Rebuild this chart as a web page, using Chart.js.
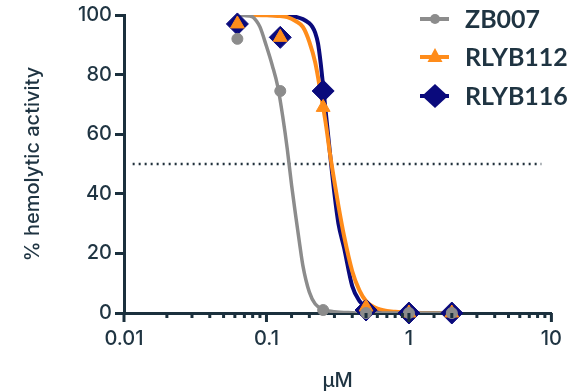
<!DOCTYPE html>
<html>
<head>
<meta charset="utf-8">
<script src="https://cdn.jsdelivr.net/npm/chart.js@4"></script>
<style>
    html, body { margin: 0; padding: 0; background: #fff; }
    canvas { display: block; }
</style>
</head>
<body>
<canvas id="grafico" width="576" height="391"></canvas>
<script>
// Concentraciones medidas (µM) y % actividad hemolítica
const dosis = [0.0625, 0.125, 0.25, 0.5, 1, 2];
const zb007 = [92, 74.5, 1, 0, 0, 0];
const rlyb112 = [97, 92.5, 69, 2, 0, 0];
const rlyb116 = [97, 92.5, 74.5, 1, 0, 0];

// Curvas ajustadas, leídas punto a punto del gráfico
const curvaZbX = [0.0625, 0.07, 0.08, 0.085, 0.09, 0.1, 0.11, 0.12, 0.13, 0.14, 0.15, 0.16, 0.17, 0.18, 0.2, 0.22, 0.25, 0.3, 0.4, 0.6, 1, 2];
const curvaZbY = [99.9, 99.8, 99.4, 98, 96, 89.5, 83, 76, 66, 55, 43, 33, 24, 16, 7, 3, 1.2, 0.4, 0.1, 0, 0, 0];

const curva112X = [0.0625, 0.1, 0.12, 0.14, 0.16, 0.18, 0.2, 0.22, 0.24, 0.26, 0.28, 0.3, 0.32, 0.35, 0.4, 0.45, 0.5, 0.6, 0.8, 1, 2];
const curva112Y = [100, 99.9, 99.7, 99.3, 98, 96, 91, 84, 74, 64, 53, 44, 36, 26, 14, 7.5, 4, 1.5, 0.4, 0.1, 0];

const curva116X = [0.0625, 0.1, 0.14, 0.16, 0.18, 0.2, 0.21, 0.22, 0.23, 0.24, 0.25, 0.26, 0.28, 0.3, 0.32, 0.35, 0.4, 0.45, 0.5, 0.6, 0.8, 1, 2];
const curva116Y = [100, 100, 99.8, 99.4, 98.6, 97.2, 96, 94, 90.5, 84, 76, 68, 53, 40, 30, 22, 9, 4, 2, 0.6, 0.1, 0, 0];

// Línea de referencia al 50 %
const lineaRefX = [0.0115, 8.5];
const lineaRefY = [50, 50];

// Etiquetas de ejes
const ticksX = [0.01, 0.1, 1, 10];
const etiquetasX = ["0.01", "0.1", "1", "10"];
const series = ["ZB007", "RLYB112", "RLYB116"];

const OSCURO = "#1b303d";
const TEXTO = "#1f3442";
const GRIS = "#8c8c8c";
const NARANJA = "#ff8c1a";
const AZUL = "#0a0a7c";

function pares(xs, ys) {
    return xs.map((x, i) => ({ x: x, y: ys[i] }));
}

// Marcas del eje X (mayores y menores) dibujadas con la escala logarítmica
const marcasEjeX = {
    id: "marcasEjeX",
    afterDraw(chart) {
        const escala = chart.scales.x;
        const ctx = chart.ctx;
        const base = chart.chartArea.bottom;
        ctx.save();
        ctx.strokeStyle = OSCURO;
        ctx.lineWidth = 3;
        escala.ticks.forEach((t) => {
            const l = Math.log10(t.value);
            const mayor = Math.abs(l - Math.round(l)) < 1e-6;
            const px = escala.getPixelForValue(t.value);
            ctx.beginPath();
            ctx.moveTo(px, base);
            ctx.lineTo(px, base + (mayor ? 9 : 5));
            ctx.stroke();
        });
        ctx.restore();
    },
};

// Leyenda a la derecha con línea y marcador
const leyenda = {
    id: "leyendaPropia",
    afterDraw(chart) {
        const ctx = chart.ctx;
        const filas = [
            { texto: series[0], color: GRIS, y: 19, tipo: "circulo" },
            { texto: series[1], color: NARANJA, y: 57, tipo: "triangulo" },
            { texto: series[2], color: AZUL, y: 96, tipo: "rombo" },
        ];
        ctx.save();
        filas.forEach((f) => {
            const cx = 435;
            ctx.strokeStyle = f.color;
            ctx.fillStyle = f.color;
            ctx.lineWidth = 4;
            ctx.beginPath();
            ctx.moveTo(420, f.y);
            ctx.lineTo(449, f.y);
            ctx.stroke();
            ctx.beginPath();
            if (f.tipo === "circulo") {
                ctx.arc(cx, f.y, 5, 0, Math.PI * 2);
            } else if (f.tipo === "triangulo") {
                ctx.moveTo(cx, f.y - 9);
                ctx.lineTo(cx + 7.5, f.y + 5);
                ctx.lineTo(cx - 7.5, f.y + 5);
                ctx.closePath();
            } else {
                ctx.moveTo(cx, f.y - 12);
                ctx.lineTo(cx + 13, f.y);
                ctx.lineTo(cx, f.y + 12);
                ctx.lineTo(cx - 13, f.y);
                ctx.closePath();
            }
            ctx.fill();
            ctx.fillStyle = TEXTO;
            ctx.font = "bold 25px Lato";
            ctx.textBaseline = "middle";
            ctx.textAlign = "left";
            ctx.fillText(f.texto, 465, f.y + 1);
        });
        ctx.restore();
    },
};

function inicializarGrafico() {
    const ctx = document.getElementById("grafico").getContext("2d");
    const fuente = { family: "Inter", size: 20, weight: "500" };
    new Chart(ctx, {
        type: "line",
        data: {
            datasets: [
                {
                    label: series[0] + " puntos",
                    data: pares(dosis, zb007),
                    showLine: false,
                    pointStyle: "circle",
                    pointRadius: 5.5,
                    pointBackgroundColor: GRIS,
                    pointBorderColor: GRIS,
                    pointBorderWidth: 1,
                    clip: false,
                    order: 0,
                },
                {
                    label: series[1] + " puntos",
                    data: pares(dosis, rlyb112),
                    showLine: false,
                    pointStyle: "triangle",
                    pointRadius: 8,
                    pointBackgroundColor: NARANJA,
                    pointBorderColor: NARANJA,
                    pointBorderWidth: 1,
                    clip: false,
                    order: 1,
                },
                {
                    label: series[2] + " puntos",
                    data: pares(dosis, rlyb116),
                    showLine: false,
                    pointStyle: "rectRot",
                    pointRadius: 11,
                    pointBackgroundColor: AZUL,
                    pointBorderColor: AZUL,
                    pointBorderWidth: 1,
                    clip: false,
                    order: 2,
                },
                {
                    label: series[0],
                    data: pares(curvaZbX, curvaZbY),
                    borderColor: GRIS,
                    borderWidth: 3.5,
                    pointRadius: 0,
                    cubicInterpolationMode: "monotone",
                    fill: false,
                    order: 3,
                },
                {
                    label: series[1],
                    data: pares(curva112X, curva112Y),
                    borderColor: NARANJA,
                    borderWidth: 4,
                    pointRadius: 0,
                    cubicInterpolationMode: "monotone",
                    fill: false,
                    order: 4,
                },
                {
                    label: series[2],
                    data: pares(curva116X, curva116Y),
                    borderColor: AZUL,
                    borderWidth: 4,
                    pointRadius: 0,
                    cubicInterpolationMode: "monotone",
                    fill: false,
                    order: 5,
                },
                {
                    label: "50 %",
                    data: pares(lineaRefX, lineaRefY),
                    borderColor: "#22323d",
                    borderWidth: 2.5,
                    borderDash: [2, 4],
                    pointRadius: 0,
                    fill: false,
                    order: 6,
                },
            ],
        },
        options: {
            responsive: false,
            animation: false,
            devicePixelRatio: 1,
            layout: {
                padding: { top: 14, right: 23, left: 0, bottom: 0 },
            },
            plugins: {
                legend: { display: false },
                tooltip: { enabled: false },
            },
            scales: {
                x: {
                    type: "logarithmic",
                    min: 0.01,
                    max: 10,
                    afterFit: (s) => { s.height = 78; },
                    border: { display: true, color: OSCURO, width: 3 },
                    grid: { display: true, drawOnChartArea: false, drawTicks: false },
                    ticks: {
                        autoSkip: false,
                        maxRotation: 0,
                        padding: 14,
                        color: TEXTO,
                        font: fuente,
                        callback: function (value) {
                            const i = ticksX.findIndex((t) => Math.abs(t - value) / t < 1e-6);
                            return i >= 0 ? etiquetasX[i] : "";
                        },
                    },
                    title: {
                        display: true,
                        text: "µM",
                        color: TEXTO,
                        font: { family: "Inter", size: 20, weight: "500", lineHeight: 1 },
                        padding: 0,
                    },
                },
                y: {
                    min: 0,
                    max: 100,
                    afterFit: (s) => { s.width = 124; },
                    border: { display: true, color: OSCURO, width: 3 },
                    grid: {
                        display: true,
                        drawOnChartArea: false,
                        tickLength: 9,
                        tickWidth: 3,
                        tickColor: OSCURO,
                    },
                    ticks: {
                        stepSize: 20,
                        padding: 3,
                        color: TEXTO,
                        font: fuente,
                    },
                    title: {
                        display: true,
                        text: "% hemolytic activity",
                        color: TEXTO,
                        font: fuente,
                        padding: { top: 21, bottom: 0 },
                    },
                },
            },
        },
        plugins: [marcasEjeX, leyenda],
    });
}

window.onload = inicializarGrafico;
</script>
</body>
</html>
